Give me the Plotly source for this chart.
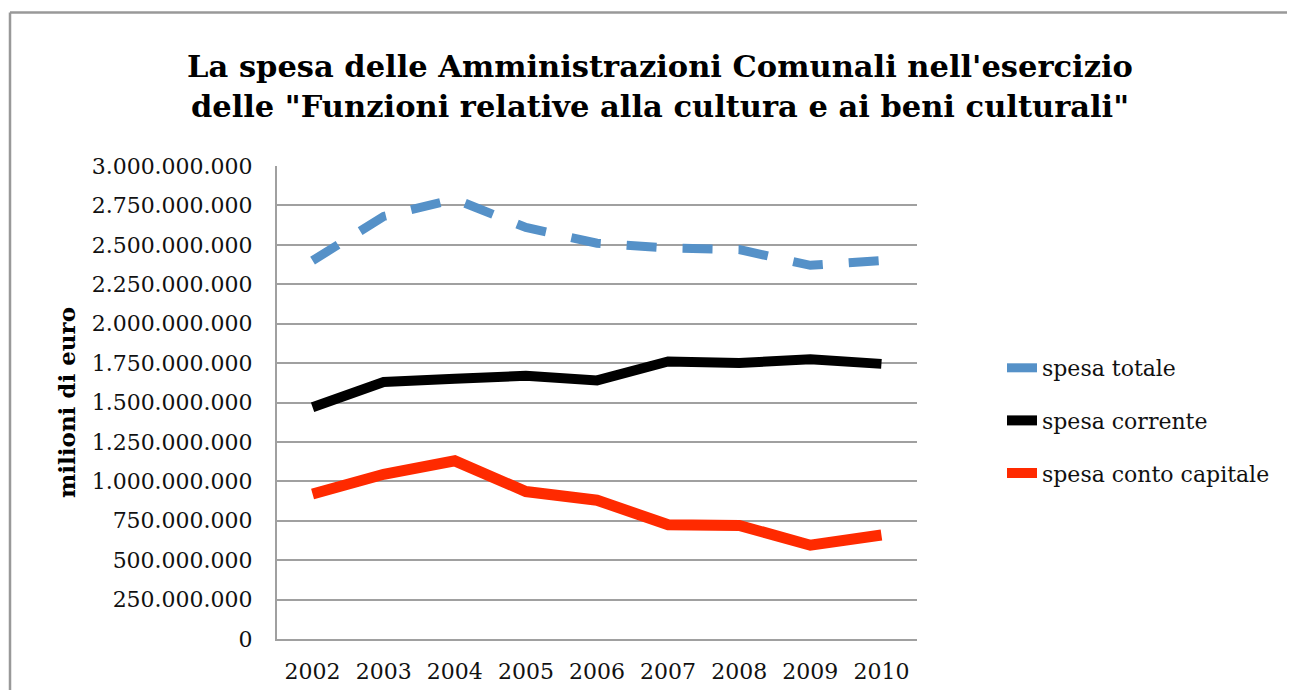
import plotly.graph_objects as go

years = ["2002", "2003", "2004", "2005", "2006", "2007", "2008", "2009", "2010"]
spesa_totale = [2.40e9, 2.68e9, 2.79e9, 2.61e9, 2.51e9, 2.48e9, 2.47e9, 2.37e9, 2.40e9]
spesa_corrente = [1.47e9, 1.63e9, 1.65e9, 1.67e9, 1.64e9, 1.76e9, 1.75e9, 1.775e9, 1.745e9]
spesa_capitale = [0.92e9, 1.045e9, 1.13e9, 0.935e9, 0.88e9, 0.725e9, 0.72e9, 0.595e9, 0.66e9]
y_tickvals = [0, 250e6, 500e6, 750e6, 1000e6, 1250e6, 1500e6, 1750e6, 2000e6, 2250e6, 2500e6, 2750e6, 3000e6]
y_ticktext = ["0", "250.000.000", "500.000.000", "750.000.000", "1.000.000.000", "1.250.000.000",
              "1.500.000.000", "1.750.000.000", "2.000.000.000", "2.250.000.000", "2.500.000.000",
              "2.750.000.000", "3.000.000.000"]

FONT = "DejaVu Serif"
GRID = "#a0a0a0"

fig = go.Figure()
fig.add_trace(go.Scatter(x=years, y=spesa_totale, mode="lines", name="spesa totale",
                         legendgroup="a",
                         line=dict(color="#5591c8", width=9, dash="30px,26px")))
fig.add_trace(go.Scatter(x=years, y=spesa_corrente, mode="lines", name="spesa corrente",
                         legendgroup="b",
                         line=dict(color="#000000", width=10)))
fig.add_trace(go.Scatter(x=years, y=spesa_capitale, mode="lines", name="spesa conto capitale",
                         legendgroup="c",
                         line=dict(color="#ff2a00", width=11)))

OFF = 8  # page body margin
W, H = 1295 - 2 * OFF, 698 - 2 * OFF
L, T = 277 - OFF, 166 - OFF
R, B = W - (917 - OFF), H - (639 - OFF)
pw, ph = W - L - R, H - T - B

def px(x):  # page pixel -> paper
    return (x - OFF - L) / pw

def py(y):
    return (H - B - (y - OFF)) / ph

border = dict(color="#999999", width=2.5)

fig.update_layout(
    width=W, height=H,
    margin=dict(l=L, r=R, t=T, b=B, autoexpand=False),
    paper_bgcolor="white", plot_bgcolor="white",
    font=dict(family=FONT, color="#111111", size=22),
    title=dict(
        text="La spesa delle Amministrazioni Comunali nell'esercizio<br>delle \"Funzioni relative alla cultura e ai beni culturali\"",
        x=(660 - OFF) / W, xanchor="center", xref="container",
        y=1 - 69 / H, yanchor="middle", yref="container",
        font=dict(family=FONT, size=30.5, color="#000000", weight="bold"),
    ),
    showlegend=True,
    legend=dict(
        x=px(1002), xanchor="left", y=py(347), yanchor="top",
        font=dict(family=FONT, size=22, color="#111111"),
        tracegroupgap=21, bgcolor="rgba(0,0,0,0)",
    ),
    xaxis=dict(
        type="category", range=[-0.5, 8.5],
        showgrid=False, showline=True, linecolor=GRID, linewidth=2,
        ticks="", ticklabelstandoff=12,
        tickfont=dict(family=FONT, size=22, color="#111111"),
        zeroline=False,
    ),
    yaxis=dict(
        range=[0, 3e9], tickvals=y_tickvals, ticktext=y_ticktext,
        showgrid=True, gridcolor=GRID, gridwidth=2,
        showline=True, linecolor=GRID, linewidth=2,
        ticks="", ticklabelstandoff=18, zeroline=False,
        tickfont=dict(family=FONT, size=22, color="#111111"),
        title=dict(text="milioni di euro", standoff=10,
                   font=dict(family=FONT, size=23, color="#000000", weight="bold")),
    ),
    shapes=[
        dict(type="line", xref="paper", yref="paper",
             x0=px(10), x1=px(1330), y0=py(12.5), y1=py(12.5), line=border, layer="below"),
        dict(type="line", xref="paper", yref="paper",
             x0=px(10), x1=px(10), y0=py(12.5), y1=py(740), line=border, layer="below"),
    ],
)

fig.write_html("out.html")
